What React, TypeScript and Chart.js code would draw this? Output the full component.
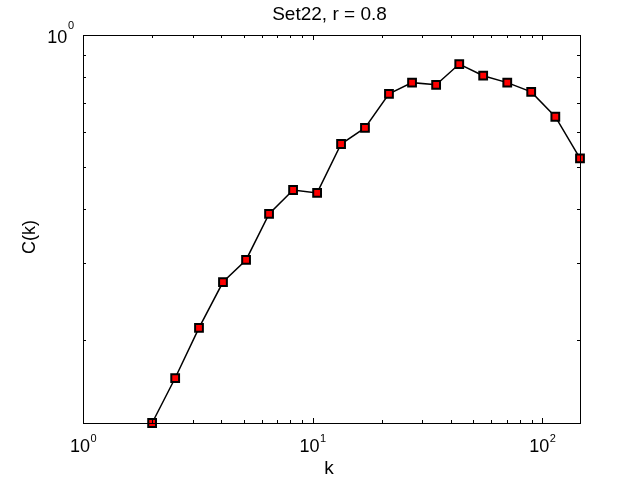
import { useEffect, useRef } from "react";
import { Chart, registerables } from "chart.js";

Chart.register(...registerables);

// ---- data ----
const kValues = [2.0, 2.52, 3.2, 4.07, 5.13, 6.46, 8.22, 10.46, 13.3, 16.9, 21.5, 27.1, 34.5, 43.5, 55.3, 70.4, 89.5, 114, 146];
const cValues = [0.1294, 0.164, 0.2136, 0.272, 0.3056, 0.3895, 0.4418, 0.435, 0.563, 0.613, 0.733, 0.778, 0.769, 0.858, 0.807, 0.778, 0.741, 0.65, 0.522];

const xMajorTicks = [1, 10, 100];
const xMajorExponents = ["0", "1", "2"];
const xMinorTicks = [2, 3, 4, 5, 6, 7, 8, 9, 20, 30, 40, 50, 60, 70, 80, 90];
const yMajorTicks = [1];
const yMajorExponents = ["0"];
const yMinorTicks = [0.2, 0.3, 0.4, 0.5, 0.6, 0.7, 0.8, 0.9];

const titleText = "Set22, r = 0.8";
const xLabelText = "k";
const yLabelText = "C(k)";

const FONT = "'Liberation Sans', Arial, Helvetica, sans-serif";

const matlabAxes = {
  id: "matlabAxes",
  afterDatasetsDraw(chart: any) {
    const { ctx, chartArea } = chart;
    const xs = chart.scales.x;
    const ys = chart.scales.y;
    const L = Math.round(chartArea.left);
    const R = Math.round(chartArea.right);
    const T = Math.round(chartArea.top);
    const B = Math.round(chartArea.bottom);
    ctx.save();
    ctx.strokeStyle = "#000";
    ctx.lineWidth = 1;
    ctx.strokeRect(L + 0.5, T + 0.5, R - L, B - T);

    const majorLen = 5;
    const minorLen = 3;
    ctx.beginPath();
    const xt = (v: number, len: number) => {
      const px = Math.round(xs.getPixelForValue(v)) + 0.5;
      ctx.moveTo(px, B);
      ctx.lineTo(px, B - len);
      ctx.moveTo(px, T);
      ctx.lineTo(px, T + len);
    };
    const yt = (v: number, len: number) => {
      const py = Math.round(ys.getPixelForValue(v)) + 0.5;
      ctx.moveTo(L, py);
      ctx.lineTo(L + len, py);
      ctx.moveTo(R, py);
      ctx.lineTo(R - len, py);
    };
    xMajorTicks.forEach((v) => xt(v, majorLen));
    xMinorTicks.forEach((v) => xt(v, minorLen));
    yMajorTicks.forEach((v) => yt(v, majorLen));
    yMinorTicks.forEach((v) => yt(v, minorLen));
    ctx.stroke();

    ctx.fillStyle = "#000";
    const baseFont = `18px ${FONT}`;
    const expFont = `11px ${FONT}`;
    ctx.textBaseline = "alphabetic";
    ctx.textAlign = "left";

    // x tick labels
    xMajorTicks.forEach((v, i) => {
      const px = xs.getPixelForValue(v);
      ctx.font = baseFont;
      const w1 = ctx.measureText("10").width;
      ctx.font = expFont;
      const w2 = ctx.measureText(xMajorExponents[i]).width;
      const start = px - (w1 + w2) / 2;
      ctx.font = baseFont;
      ctx.fillText("10", start, B + 29);
      ctx.font = expFont;
      ctx.fillText(xMajorExponents[i], start + w1 + 0.5, B + 19);
    });

    // y tick labels
    yMajorTicks.forEach((v, i) => {
      const py = ys.getPixelForValue(v);
      ctx.font = expFont;
      const w2 = ctx.measureText(yMajorExponents[i]).width;
      const expX = L - 9 - w2;
      ctx.fillText(yMajorExponents[i], expX, py - 6.5);
      ctx.font = baseFont;
      const w1 = ctx.measureText("10").width;
      ctx.fillText("10", expX - 0.5 - w1, py + 7.5);
    });

    // title
    ctx.font = `19px ${FONT}`;
    ctx.textAlign = "center";
    ctx.fillText(titleText, 329.5, 19.5);

    // x label
    ctx.font = `19px ${FONT}`;
    ctx.fillText(xLabelText, 329, 474);

    // y label
    ctx.save();
    ctx.translate(30, 237);
    ctx.rotate(-Math.PI / 2);
    ctx.textBaseline = "middle";
    ctx.font = `18px ${FONT}`;
    ctx.fillText(yLabelText, 0, 0);
    ctx.restore();

    ctx.restore();
  },
};

export default function App() {
  const ref = useRef<HTMLCanvasElement>(null);
  useEffect(() => {
    document.body.style.margin = "0";
    const canvas = ref.current!;
    const chart = new Chart(canvas, {
      type: "line",
      data: {
        datasets: [
          {
            data: kValues.map((k, i) => ({ x: k, y: cValues[i] })),
            borderColor: "#000",
            borderWidth: 1.5,
            pointStyle: "rect",
            pointRadius: 5.5,
            pointBackgroundColor: "#ff0000",
            pointBorderColor: "#000",
            pointBorderWidth: 2,
            pointHoverRadius: 5.5,
            tension: 0,
            clip: false as any,
          },
        ],
      },
      options: {
        responsive: false,
        animation: false,
        devicePixelRatio: 1,
        layout: { padding: { left: 83, right: 60, top: 35, bottom: 57 } },
        plugins: { legend: { display: false }, tooltip: { enabled: false }, title: { display: false } },
        events: [],
        scales: {
          x: { type: "logarithmic", min: 1, max: kValues[kValues.length - 1], display: false },
          y: { type: "logarithmic", min: cValues[0], max: 1, display: false },
        },
      },
      plugins: [matlabAxes],
    });
    return () => chart.destroy();
  }, []);
  return (
    <div style={{ position: "absolute", left: 0, top: 0, width: 640, height: 480, background: "#fff" }}>
      <canvas ref={ref} width={640} height={480} style={{ display: "block", width: 640, height: 480 }} />
    </div>
  );
}
